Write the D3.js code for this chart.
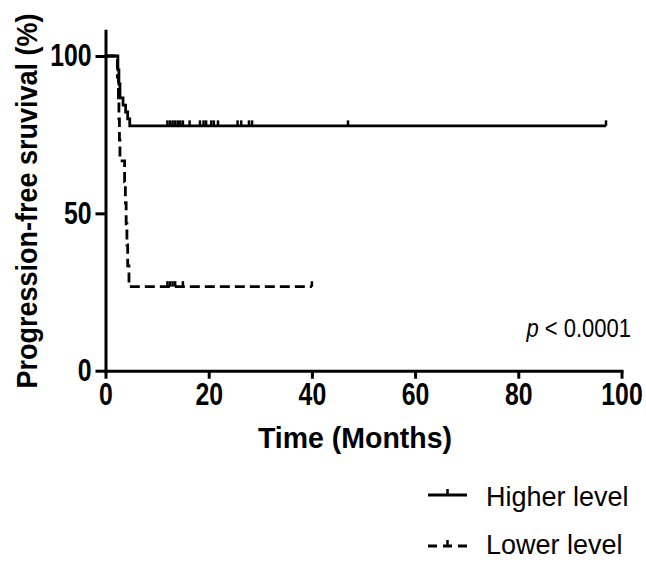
<!DOCTYPE html>
<meta charset="utf-8">
<style>
body {
  margin: 0;
  background: #fff;
}
svg text {
  font-family: "Liberation Sans", Arial, sans-serif;
  fill: #000;
}
.axis path, .axis line {
  stroke: #000;
  stroke-width: 3px;
}
.axis text {
  font-size: 31px;
  font-weight: bold;
}
.title {
  font-size: 30px;
  font-weight: bold;
}
.curve {
  fill: none;
  stroke: #000;
  stroke-width: 2.8px;
}
.censor {
  stroke: #000;
  stroke-width: 2.5px;
}
.legend text {
  font-size: 27px;
}
</style>
<body>
<script src="https://cdn.jsdelivr.net/npm/d3@7"></script>
<script>
// Kaplan-Meier steps
var higherTimes = [0, 2.4, 2.6, 2.8, 3.4, 3.9, 4.3, 4.7];
var higherSurv = [100, 95.6, 91.1, 86.7, 84.4, 82.2, 80.0, 77.8];
var higherEnd = 97;
var higherCensored = [12, 12.5, 13, 13.5, 14, 14.5, 15, 16.3, 18.3, 19, 19.5, 20.5, 21, 21.8, 25.6, 26.3, 27.8, 28.4, 47, 97];

var lowerTimes = [0, 2.3, 2.5, 2.6, 2.7, 2.8, 3.7, 3.85, 4.0, 4.15, 4.3, 4.55];
var lowerSurv = [100, 93.3, 86.7, 80.0, 73.3, 66.7, 60.0, 53.3, 46.7, 40.0, 33.3, 26.7];
var lowerEnd = 40;
var lowerCensored = [12, 12.5, 13, 13.5, 15, 40];

var xTicks = [0, 20, 40, 60, 80, 100];
var yTicks = [0, 50, 100];
var seriesNames = ["Higher level", "Lower level"];

var width = 646, height = 581;
var squeeze = 0.8; // the original uses a narrow bold face

var x = d3.scaleLinear().domain([0, 100]).range([105.5, 621.5]);
var y = d3.scaleLinear().domain([0, 108]).range([370.7, 370.7 - 108 * 3.147]);

var svg = d3.select("body").append("svg")
    .attr("width", width)
    .attr("height", height);

// step path: hold each value until the next event time
function stepPoints(times, surv, end) {
  var pts = [];
  for (var i = 0; i < times.length; i++) {
    if (i > 0) pts.push([times[i], surv[i - 1]]);
    pts.push([times[i], surv[i]]);
  }
  pts.push([end, surv[surv.length - 1]]);
  return pts;
}

// survival value at time t
function survAt(times, surv, t) {
  var s = surv[0];
  for (var i = 0; i < times.length; i++) if (times[i] <= t) s = surv[i];
  return s;
}

var line = d3.line()
    .x(function(d) { return x(d[0]); })
    .y(function(d) { return y(d[1]); });

var series = [
  {times: higherTimes, surv: higherSurv, end: higherEnd, cens: higherCensored, dash: null},
  {times: lowerTimes, surv: lowerSurv, end: lowerEnd, cens: lowerCensored, dash: "10,5"}
];

series.forEach(function(s) {
  svg.append("path")
      .datum(stepPoints(s.times, s.surv, s.end))
      .attr("class", "curve")
      .attr("stroke-dasharray", s.dash)
      .attr("d", line);
  svg.selectAll(null)
      .data(s.cens)
    .enter().append("line")
      .attr("class", "censor")
      .attr("x1", function(d) { return x(d); })
      .attr("x2", function(d) { return x(d); })
      .attr("y1", function(d) { return y(survAt(s.times, s.surv, d)); })
      .attr("y2", function(d) { return y(survAt(s.times, s.surv, d)) - 5.5; });
});

// axes
svg.append("g")
    .attr("class", "axis")
    .attr("transform", "translate(0," + y(0) + ")")
    .call(d3.axisBottom(x).tickValues(xTicks).tickSize(8).tickSizeOuter(0).tickPadding(4))
  .selectAll("text")
    .attr("transform", "scale(" + squeeze + ",1)");
svg.append("g")
    .attr("class", "axis")
    .attr("transform", "translate(" + x(0) + ",0)")
    .call(d3.axisLeft(y).tickValues(yTicks).tickSize(10).tickSizeOuter(0).tickPadding(4))
  .selectAll("text")
    .attr("x", -14 / squeeze)
    .attr("transform", "scale(" + squeeze + ",1)");
svg.selectAll(".axis path").attr("stroke-linecap", "square");

svg.append("text")
    .attr("class", "title")
    .attr("transform", "translate(355,448) scale(0.95,1)")
    .attr("text-anchor", "middle")
    .text("Time (Months)");

svg.append("text")
    .attr("class", "title")
    .attr("transform", "translate(37,201) rotate(-90) scale(0.9,1)")
    .attr("text-anchor", "middle")
    .text("Progression-free sruvival (%)");

var pText = svg.append("text")
    .attr("transform", "translate(631,337) scale(0.88,1)")
    .attr("text-anchor", "end")
    .style("font-size", "25px");
pText.append("tspan").style("font-style", "italic").text("p");
pText.append("tspan").text(" < 0.0001");

// legend
var legend = svg.append("g").attr("class", "legend");
var legendRows = [{y: 495, ty: 506, dash: null}, {y: 546, ty: 554, dash: "9,6"}];
legendRows.forEach(function(r, i) {
  legend.append("line")
      .attr("class", "curve")
      .attr("x1", 428).attr("x2", 467)
      .attr("y1", r.y).attr("y2", r.y)
      .attr("stroke-dasharray", r.dash);
  legend.append("line")
      .attr("class", "censor")
      .attr("x1", 447.5).attr("x2", 447.5)
      .attr("y1", r.y).attr("y2", r.y - 6);
  legend.append("text")
      .attr("x", 486)
      .attr("y", r.ty)
      .text(seriesNames[i]);
});
</script>
</body>
